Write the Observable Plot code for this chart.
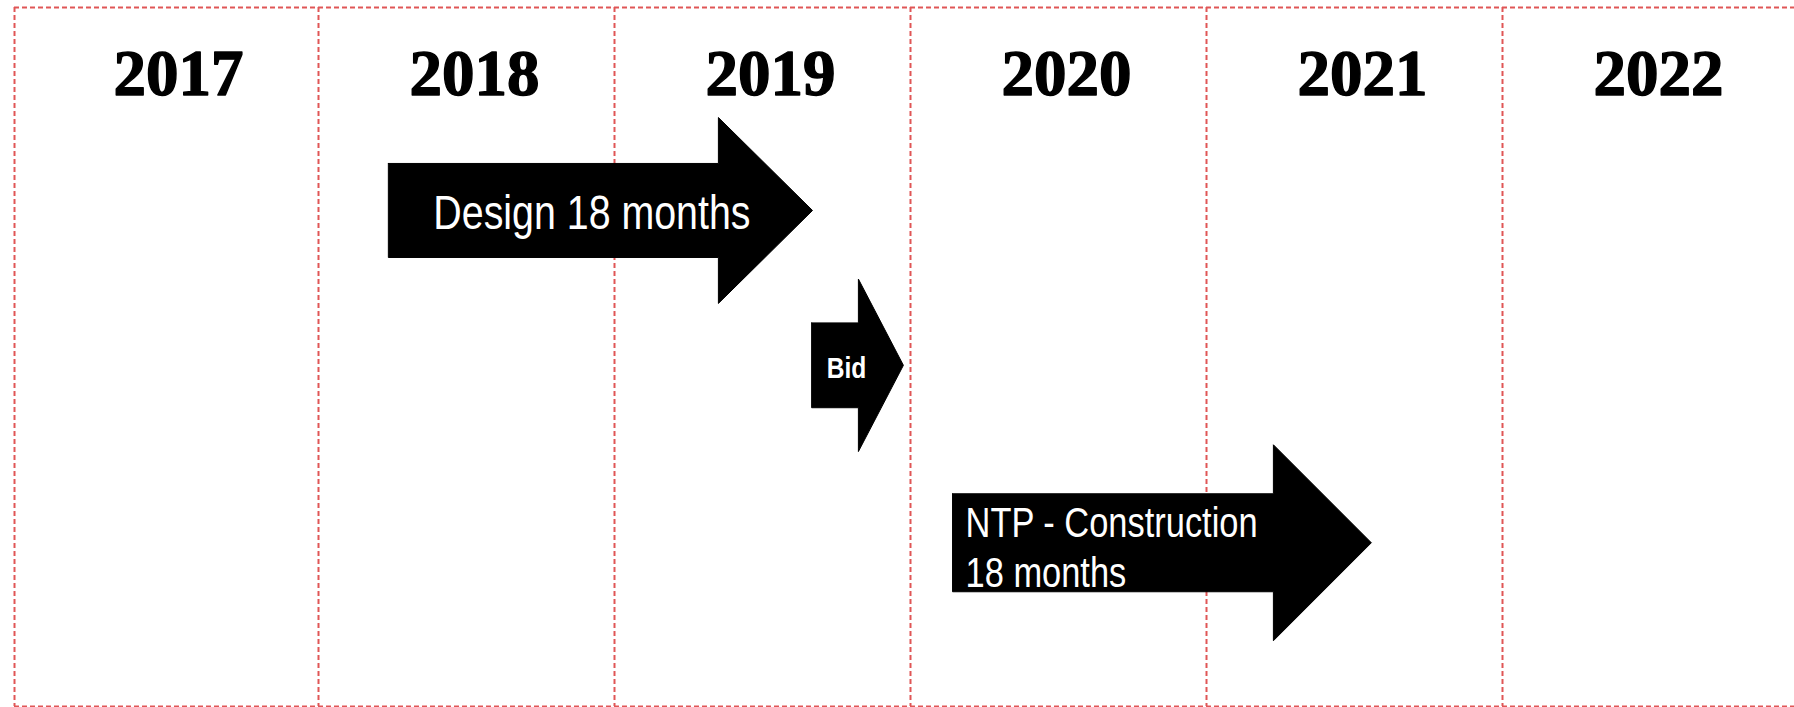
<!DOCTYPE html>
<html><head><meta charset="utf-8">
<script src="https://cdn.jsdelivr.net/npm/d3@7"></script>
<script src="https://cdn.jsdelivr.net/npm/@observablehq/plot@0.6"></script>
<style>html,body{margin:0;padding:0;background:#fff;overflow:hidden}</style>
</head><body><div id="chart"></div>
<script>
// ---- data ----
const years = [2017, 2018, 2019, 2020, 2021, 2022];
const dividers = [2016.973, 2018, 2019, 2020, 2021, 2022];
const frameRows = [0.99, 99.86];
const yearRow = 10.4;
const taskLabels = ["Design 18 months", "Bid", "NTP - Construction\n18 months"];
const taskStart = [2018.236, 2019.666, 2020.142];
const taskHead  = [2019.351, 2019.824, 2021.226];
const taskEnd   = [2019.669, 2019.976, 2021.557];
const taskRow   = [29.7, 51.6, 76.7];
const shaftHalf = [6.65, 6.0, 6.93];
const headHalf  = [13.15, 12.2, 13.86];

const arrowPts = taskLabels.flatMap((t, i) => [
  [taskStart[i], taskRow[i] - shaftHalf[i]],
  [taskHead[i],  taskRow[i] - shaftHalf[i]],
  [taskHead[i],  taskRow[i] - headHalf[i]],
  [taskEnd[i],   taskRow[i]],
  [taskHead[i],  taskRow[i] + headHalf[i]],
  [taskHead[i],  taskRow[i] + shaftHalf[i]],
  [taskStart[i], taskRow[i] + shaftHalf[i]],
  [taskStart[i], taskRow[i] - shaftHalf[i]]
].map(([x, y]) => ({task: t, x, y})));

const sans = "'Liberation Sans', Arial, sans-serif";
const dash = {stroke: "#e05656", strokeWidth: 2, strokeDasharray: "5,3"};

const chart = Plot.plot({
  width: 1794, height: 707, margin: 0,
  x: {domain: [2017, 2023], range: [22, 1798], axis: null},
  y: {domain: [0, 100], range: [0, 707], axis: null},
  style: {background: "#fff"},
  marks: [
    Plot.ruleX(dividers, {x: d => d, y1: frameRows[0], y2: frameRows[1], ...dash}),
    Plot.ruleY(frameRows, {y: d => d, x1: dividers[0], x2: 2023, ...dash}),
    Plot.text(years, {
      x: d => d + 0.5, y: () => yearRow, text: d => String(d), dx: 8,
      fontFamily: "'Liberation Serif', 'Times New Roman', serif", fontWeight: "bold",
      fontSize: 65, fill: "black", stroke: "black", strokeWidth: 1.4
    }),
    Plot.line(arrowPts, {x: "x", y: "y", z: "task", fill: "black", stroke: "black", strokeWidth: 1}),
    Plot.text([0], {
      x: i => taskStart[i], y: i => taskRow[i], text: i => taskLabels[i], className: "narrow",
      textAnchor: "start", dx: 45, dy: 3, fontSize: 48, fontFamily: sans, fill: "white"
    }),
    Plot.text([1], {
      x: i => taskStart[i], y: i => taskRow[i], text: i => taskLabels[i], className: "narrow",
      textAnchor: "start", dx: 15, dy: 3, fontSize: 30, fontWeight: "bold", fontFamily: sans, fill: "white"
    }),
    Plot.text([2], {
      x: i => taskStart[i], y: i => taskRow[i], text: i => taskLabels[i], className: "narrow",
      textAnchor: "start", dx: 13, dy: 3, fontSize: 42, lineHeight: 1.19, fontFamily: sans, fill: "white"
    })
  ]
});
// condense the task labels horizontally (narrow sans look)
chart.querySelectorAll("g.narrow text").forEach(t => {
  const tr = t.getAttribute("transform") || "";
  t.setAttribute("transform", tr + " scale(0.82,1)");
});
document.getElementById("chart").appendChild(chart);
</script>
</body></html>
